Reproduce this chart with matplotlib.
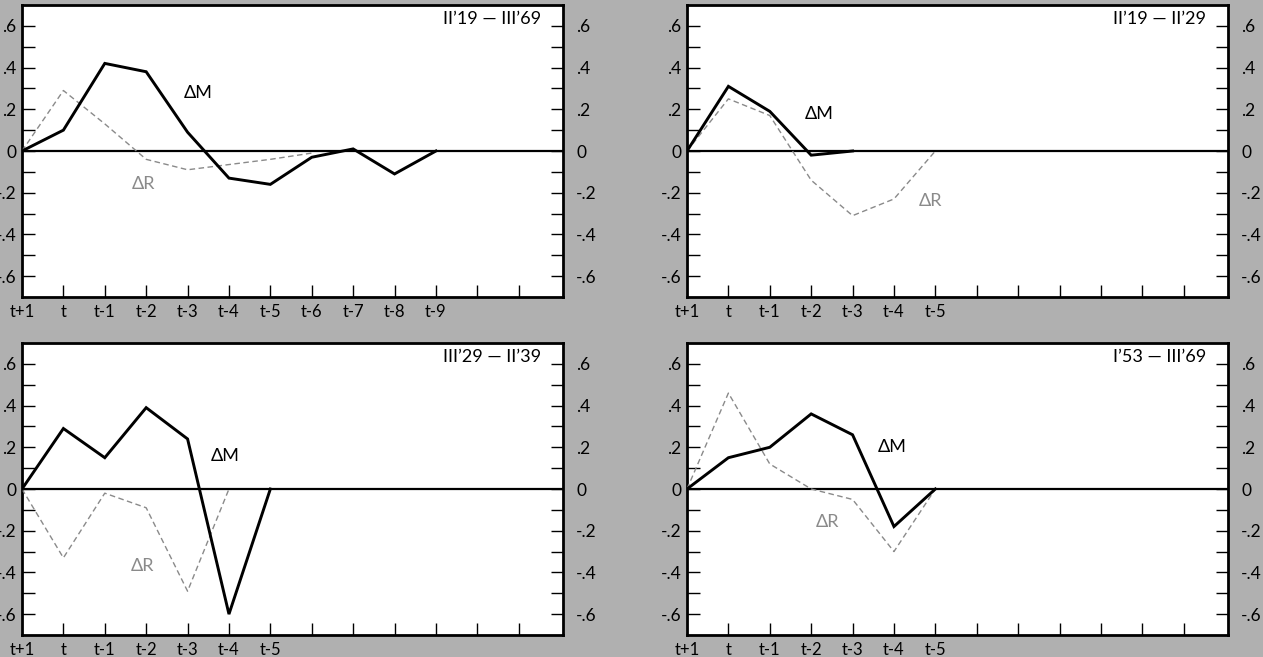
import matplotlib
matplotlib.use("Agg")
import matplotlib.pyplot as plt
import numpy as np

# ---- data ----
lag_labels = ["t+1", "t", "t-1", "t-2", "t-3", "t-4", "t-5", "t-6", "t-7", "t-8", "t-9"]

periods = ["II’19 — III’69", "II’19 — II’29", "III’29 — II’39", "I’53 — III’69"]

dM_1 = [0.0, 0.10, 0.42, 0.38, 0.09, -0.13, -0.16, -0.03, 0.01, -0.11, 0.0]
dR_1 = [0.0, 0.29, 0.13, -0.04, -0.09, -0.065, -0.04, -0.01]

dM_2 = [0.0, 0.31, 0.19, -0.02, 0.0]
dR_2 = [0.0, 0.25, 0.17, -0.14, -0.31, -0.23, 0.0]

dM_3 = [0.0, 0.29, 0.15, 0.39, 0.24, -0.60, 0.0]
dR_3 = [0.0, -0.33, -0.02, -0.09, -0.49, 0.0]

dM_4 = [0.0, 0.15, 0.20, 0.36, 0.26, -0.18, 0.0]
dR_4 = [0.0, 0.46, 0.12, 0.0, -0.05, -0.30, 0.0]

n_labels = [11, 7, 7, 7]

ytick_vals = [0.6, 0.4, 0.2, 0.0, -0.2, -0.4, -0.6]
ytick_text = [".6", ".4", ".2", "0", "-.2", "-.4", "-.6"]

# ---- layout ----
W, H = 1263, 657
fig = plt.figure(figsize=(W / 100, H / 100), dpi=100)
bg = "#b0b0b0"
fig.patch.set_facecolor(bg)

FONT = ["Lato", "DejaVu Sans"]
plt.rcParams["font.family"] = FONT

boxes = [(22, 5), (687, 5), (22, 343), (687, 343)]  # left, top in px
bw, bh = 541, 292

series = [(dM_1, dR_1), (dM_2, dR_2), (dM_3, dR_3), (dM_4, dR_4)]
label_pos = [
    ((4.26, 0.28), (2.93, -0.157)),
    ((3.2, 0.176), (5.89, -0.238)),
    ((4.92, 0.159), (2.9, -0.37)),
    ((4.95, 0.20), (3.39, -0.159)),
]

gray = "#8a8a8a"
minor = np.round(np.arange(-0.6, 0.61, 0.1), 2)
ylabels = [ytick_text[ytick_vals.index(v)] if v in ytick_vals else "" for v in minor]

for i, ((lx, ty), (dm, dr)) in enumerate(zip(boxes, series)):
    ax = fig.add_axes([lx / W, 1 - (ty + bh) / H, bw / W, bh / H])
    ax.set_facecolor("white")
    ax.set_xlim(0, 13.07)
    ax.set_ylim(-0.7, 0.7)
    for s in ax.spines.values():
        s.set_linewidth(2.0)
        s.set_color("black")
    ax.axhline(0, color="black", lw=1.6, zorder=2)
    ax.plot(np.arange(len(dr)), dr, color=gray, lw=1.0, dashes=(4, 2.5), zorder=3)
    ax.plot(np.arange(len(dm)), dm, color="black", lw=2.1, zorder=4,
            solid_joinstyle="miter")

    # left y ticks
    ax.set_yticks(minor)
    ax.set_yticklabels(ylabels)
    ax.tick_params(axis="y", which="both", direction="in", length=9, width=1.0,
                   left=True, right=False, labelleft=True, labelright=False,
                   labelsize=12.5, pad=4)
    # right y ticks via twin
    axr = ax.twinx()
    axr.set_ylim(-0.7, 0.7)
    axr.set_yticks(minor)
    axr.set_yticklabels(ylabels)
    axr.tick_params(axis="y", which="both", direction="in", length=9, width=1.0,
                    left=False, right=True, labelleft=False, labelright=True,
                    labelsize=12.5, pad=9.5)
    for s in axr.spines.values():
        s.set_visible(False)

    ax.set_xticks(np.arange(1, 13))
    ax.set_xticklabels([""] * 12)
    ax.tick_params(axis="x", which="both", direction="in", length=9, width=1.0,
                   top=False, bottom=True)
    # x labels
    for k in range(n_labels[i]):
        ax.annotate(lag_labels[k], xy=(k, -0.7), xycoords="data",
                    xytext=(0, -11), textcoords="offset points",
                    ha="center", va="center", fontsize=12)
    # period label
    ax.text(12.55, 0.635, periods[i], ha="right", va="center", fontsize=13)
    (mx, my), (rx, ry) = label_pos[i]
    ax.text(mx, my, "ΔM", ha="center", va="center", fontsize=13, color="black",
            family=FONT)
    ax.text(rx, ry, "ΔR", ha="center", va="center", fontsize=13, color=gray,
            family=FONT)

fig.savefig("out.png", dpi=100, facecolor=bg)
